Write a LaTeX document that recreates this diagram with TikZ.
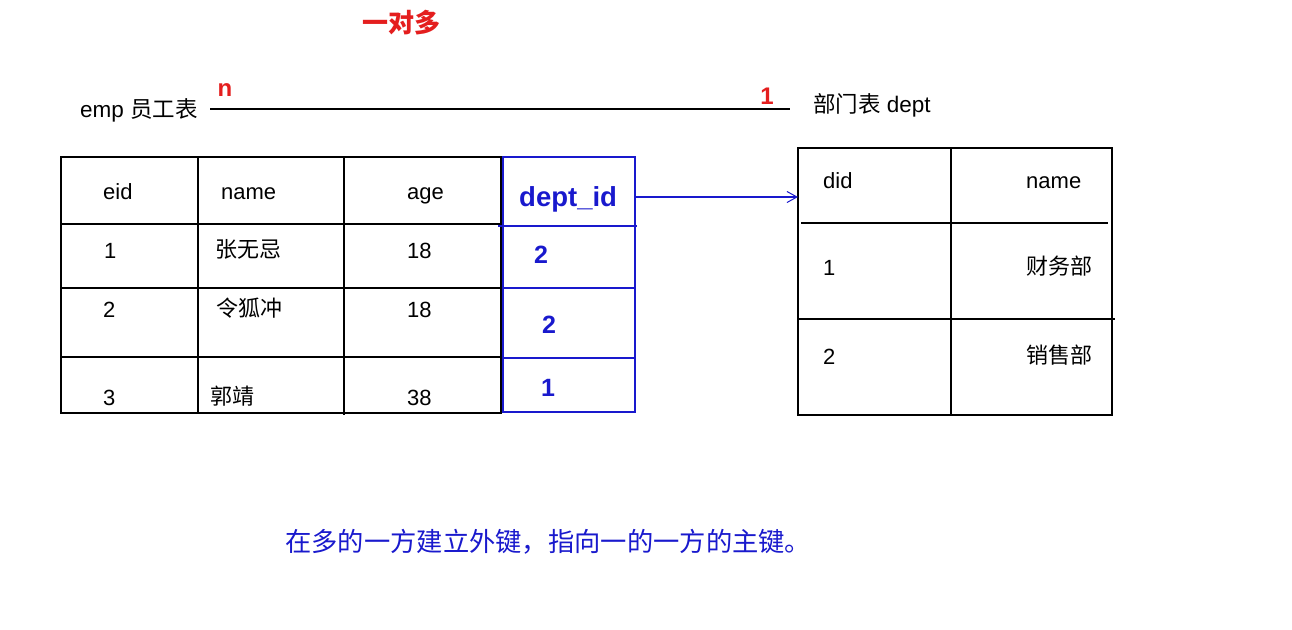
\documentclass[tikz,border=0pt]{standalone}
\usepackage{fontspec}
\setmainfont{Liberation Sans}
\newfontfamily\cjk{Noto Sans CJK SC}
\usetikzlibrary{arrows.meta}
\definecolor{fkblue}{RGB}{25,25,205}
\definecolor{redlbl}{RGB}{228,30,30}
\tikzset{
  grid/.style={line width=1.8pt, black},
  bgrid/.style={line width=1.5pt, fkblue},
  cell/.style={anchor=base west, inner sep=0pt, font=\fontsize{22}{24}\selectfont},
  bnum/.style={anchor=base, inner sep=0pt, text=fkblue, font=\fontsize{25}{28}\selectfont\bfseries},
  lbl/.style={anchor=base west, inner sep=0pt, font=\fontsize{22.5}{24}\selectfont},
  card/.style={anchor=base, inner sep=0pt, text=redlbl, font=\fontsize{24}{28}\selectfont\bfseries},
}
\begin{document}
\begin{tikzpicture}[x=1pt,y=-1pt]
\useasboundingbox[fill=white] (0,0) rectangle (1292,629);

% title
\node[anchor=base, inner sep=0pt, text=redlbl, font=\fontsize{26}{30}\selectfont\cjk\bfseries] (title) at (401,32) {一对多};

% relation line
\node[lbl] (emplbl) at (80,117) {emp {\cjk 员工表}};
\node[lbl] (deptlbl) at (813,112) {{\cjk 部门表} dept};
\coordinate (relL) at (210,109);
\coordinate (relR) at (790,109);
\draw[line width=1.8pt] (relL) -- (relR);
\node[card] (cn) at (225,96) {n};
\node[card] (c1) at (767,104) {1};

% emp table (black part)
\draw[grid] (502,157) -- (61,157) -- (61,413) -- (502,413);
\draw[grid] (61,224) -- (502,224);
\draw[grid] (61,288) -- (502,288);
\draw[grid] (61,357) -- (502,357);
\draw[grid] (198,157) -- (198,413);
\draw[grid] (344,157) -- (344,415);
\draw[grid] (501,157) -- (501,413);
% dept_id column (blue)
\draw[bgrid] (503,157) rectangle (635,412);
\draw[bgrid] (498,226) -- (637,226);
\draw[bgrid] (503,288) -- (635,288);
\draw[bgrid] (503,358) -- (635,358);

% emp header
\node[cell] (h1) at (103,199) {eid};
\node[cell] (h2) at (221,199) {name};
\node[cell] (h3) at (407,199) {age};
\node[anchor=base west, inner sep=0pt, text=fkblue, font=\fontsize{27.5}{30}\selectfont\bfseries] (h4) at (519,206) {dept\_id};
% emp rows
\node[cell] (r11) at (104,258) {1};
\node[cell] (r12) at (215,257) {\cjk 张无忌};
\node[cell] (r13) at (407,258) {18};
\node[bnum] (r14) at (541,263) {2};
\node[cell] (r21) at (103,317) {2};
\node[cell] (r22) at (216,316) {\cjk 令狐冲};
\node[cell] (r23) at (407,317) {18};
\node[bnum] (r24) at (549,333) {2};
\node[cell] (r31) at (103,405) {3};
\node[cell] (r32) at (210,404) {\cjk 郭靖};
\node[cell] (r33) at (407,405) {38};
\node[bnum] (r34) at (548,396) {1};

% dept table
\draw[grid] (798,148) rectangle (1112,415);
\draw[grid] (801,223) -- (1108,223);
\draw[grid] (798,319) -- (1115,319);
\draw[grid] (951,148) -- (951,415);
\node[cell] (d1) at (823,188) {did};
\node[cell] (d2) at (1026,188) {name};
\node[cell] (d11) at (823,275) {1};
\node[cell] (d12) at (1026,274) {\cjk 财务部};
\node[cell] (d21) at (823,364) {2};
\node[cell] (d22) at (1026,363) {\cjk 销售部};

% foreign key arrow
\coordinate (fkout) at (636,197);
\coordinate (pkin) at (798,197);
\draw[line width=1.3pt, fkblue, -{Straight Barb[length=10pt,width=11pt,line width=1pt]}] (fkout) -- (pkin);

% note
\node[anchor=base west, inner sep=0pt, text=fkblue, font=\fontsize{26.3}{30}\selectfont\cjk] (note) at (285,551) {在多的一方建立外键，指向一的一方的主键。};
\end{tikzpicture}
\end{document}
